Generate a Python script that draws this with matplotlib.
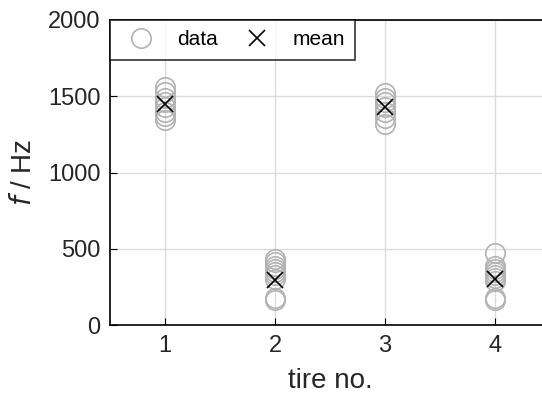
import numpy as np
import matplotlib.pyplot as plt

plt.rcParams['font.family'] = ['Liberation Sans', 'DejaVu Sans']

tire_no = [1, 2, 3, 4]
freq_1 = [1560, 1525, 1490, 1460, 1430, 1400, 1370, 1345]
freq_2 = [430, 410, 390, 370, 350, 330, 300, 175, 165]
freq_3 = [1520, 1490, 1460, 1430, 1400, 1360, 1320]
freq_4 = [470, 390, 370, 350, 330, 310, 290, 175, 165]
freq_mean = [1450, 295, 1430, 300]
y_ticks = [0, 500, 1000, 1500, 2000]

fig = plt.figure(figsize=(5.42, 3.96), dpi=100)
ax = fig.add_axes([110/542, 71/396, 440/542, 305/396])

all_freq = [freq_1, freq_2, freq_3, freq_4]
for i, f in enumerate(all_freq):
    ax.plot([tire_no[i]]*len(f), f, 'o', mfc='none', mec='#b3b3b3',
            ms=14, mew=1.2, label='data' if i == 0 else None, zorder=2)
ax.plot(tire_no, freq_mean, 'x', color='black', ms=12, mew=1.2,
        label='mean', zorder=3)

ax.set_xlim(0.5, 4.5)
ax.set_ylim(0, 2000)
ax.set_xticks(tire_no)
ax.set_yticks(y_ticks)
ax.grid(True, color='#dcdcdc', lw=1)
ax.set_axisbelow(True)
ax.tick_params(direction='in', length=5, labelsize=17, pad=7,
               top=False, right=False, labelcolor='#262626')
for s in ax.spines.values():
    s.set_linewidth(1.2)
ax.set_xlabel('tire no.', fontsize=20, labelpad=8, color='#262626')
ax.set_ylabel('$f$ / Hz', fontsize=20, labelpad=8, color='#262626')

leg = ax.legend(loc='upper left', ncol=2, fontsize=15, frameon=True,
                fancybox=False, edgecolor='black', borderaxespad=0,
                handletextpad=0.7, columnspacing=0.9, borderpad=0.5)
leg.get_frame().set_linewidth(1.2)

plt.savefig('out.png', dpi=100)
